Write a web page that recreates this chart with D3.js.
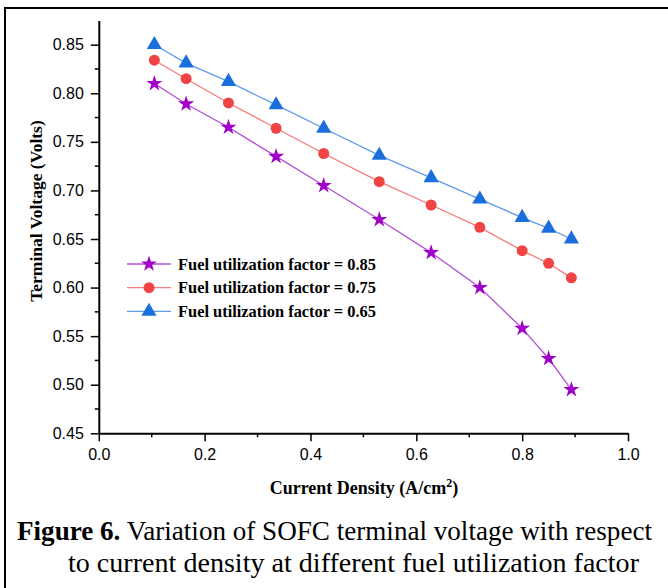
<!DOCTYPE html>
<html>
<head>
<meta charset="utf-8">
<script src="https://cdn.jsdelivr.net/npm/d3@7"></script>
<style>
  html, body { margin: 0; padding: 0; background: #fff; }
  svg { display: block; }
</style>
</head>
<body>
<svg id="chart" width="668" height="588"></svg>
<script>
// current density values (A/cm2), shared by all three curves
const currentDensity = [0.105, 0.165, 0.245, 0.335, 0.425, 0.53, 0.628, 0.72, 0.80, 0.85, 0.893];

const voltage085 = [0.810, 0.789, 0.765, 0.735, 0.705, 0.670, 0.636, 0.600, 0.558, 0.527, 0.495];
const voltage075 = [0.834, 0.815, 0.790, 0.764, 0.738, 0.709, 0.685, 0.662, 0.638, 0.625, 0.610];
const voltage065 = [0.850, 0.831, 0.812, 0.788, 0.764, 0.736, 0.713, 0.691, 0.672, 0.661, 0.650];

const seriesNames = ['Fuel utilization factor = 0.85', 'Fuel utilization factor = 0.75', 'Fuel utilization factor = 0.65'];

const xTicks = [0.0, 0.2, 0.4, 0.6, 0.8, 1.0];
const yTicks = [0.45, 0.50, 0.55, 0.60, 0.65, 0.70, 0.75, 0.80, 0.85];

const series = [
  { name: seriesNames[0], values: voltage085, symbol: d3.symbolStar, size: 80, fill: '#a000c8', line: '#b24fd6' },
  { name: seriesNames[1], values: voltage075, symbol: d3.symbolCircle, size: 95, fill: '#f04444', line: '#f77b7b' },
  { name: seriesNames[2], values: voltage065, symbol: d3.symbolTriangle, size: 100, fill: '#1b6fdc', line: '#5f9be9' }
];

const serif = '"Liberation Serif", "Times New Roman", serif';

const svg = d3.select('#chart');

// frame round the figure (only left/top edges fall inside the picture)
svg.append('rect')
  .attr('x', 5).attr('y', 8)
  .attr('width', 700).attr('height', 620)
  .attr('fill', 'none')
  .attr('stroke', '#000')
  .attr('stroke-width', 2);

const x = d3.scaleLinear().domain([0, 1]).range([98.8, 628]);
const y = d3.scaleLinear().domain([0.45, 0.875]).range([433.3, 20.4]);

// minor ticks first
const xMinor = d3.range(0.1, 1.0, 0.2);
const yMinor = d3.range(0.475, 0.875, 0.05);

svg.append('g')
  .attr('transform', `translate(0,${y(0.45)})`)
  .selectAll('line').data(xMinor).join('line')
  .attr('x1', d => x(d)).attr('x2', d => x(d))
  .attr('y1', 0).attr('y2', 4)
  .attr('stroke', '#000').attr('stroke-width', 1.5);

svg.append('g')
  .attr('transform', `translate(${x(0)},0)`)
  .selectAll('line').data(yMinor).join('line')
  .attr('y1', d => y(d)).attr('y2', d => y(d))
  .attr('x1', 0).attr('x2', -4)
  .attr('stroke', '#000').attr('stroke-width', 1.5);

const xAxis = svg.append('g')
  .attr('transform', `translate(0,${y(0.45)})`)
  .call(d3.axisBottom(x).tickValues(xTicks).tickFormat(d3.format('.1f'))
    .tickSize(8).tickSizeOuter(0).tickPadding(7));

const yAxis = svg.append('g')
  .attr('transform', `translate(${x(0)},0)`)
  .call(d3.axisLeft(y).tickValues(yTicks).tickFormat(d3.format('.2f'))
    .tickSize(8).tickSizeOuter(0).tickPadding(7));

[xAxis, yAxis].forEach(g => {
  g.select('.domain').attr('stroke', '#000').attr('stroke-width', 2);
  g.selectAll('.tick line').attr('stroke', '#000').attr('stroke-width', 1.5);
  g.selectAll('.tick text')
    .attr('fill', '#000')
    .style('font-family', '"Liberation Sans", Arial, sans-serif')
    .style('font-size', '16px');
});

// axis titles
const xTitle = svg.append('text')
  .attr('x', 364).attr('y', 494)
  .attr('text-anchor', 'middle')
  .style('font-family', serif)
  .style('font-weight', 'bold')
  .style('font-size', '18px');
xTitle.append('tspan').text('Current Density (A/cm');
xTitle.append('tspan').attr('dy', -7).style('font-size', '12px').text('2');
xTitle.append('tspan').attr('dy', 7).text(')');

svg.append('text')
  .attr('transform', 'translate(42,211) rotate(-90)')
  .attr('text-anchor', 'middle')
  .style('font-family', serif)
  .style('font-weight', 'bold')
  .style('font-size', '17.5px')
  .text('Terminal Voltage (Volts)');

// curves
const line = d3.line()
  .x((d, i) => x(currentDensity[i]))
  .y(d => y(d));

const plot = svg.append('g');

series.forEach(s => {
  plot.append('path')
    .datum(s.values)
    .attr('d', line)
    .attr('fill', 'none')
    .attr('stroke', s.line)
    .attr('stroke-width', 1.3);

  plot.append('g')
    .selectAll('path').data(s.values).join('path')
    .attr('transform', (d, i) => `translate(${x(currentDensity[i])},${y(d)})`)
    .attr('d', d3.symbol().type(s.symbol).size(s.size))
    .attr('fill', s.fill);
});

// legend
const legend = svg.append('g').attr('transform', 'translate(127,264)');
series.forEach((s, i) => {
  const row = legend.append('g').attr('transform', `translate(0,${i * 23.7})`);
  row.append('line')
    .attr('x1', 0).attr('x2', 44)
    .attr('stroke', s.line).attr('stroke-width', 1.3);
  row.append('path')
    .attr('transform', 'translate(22,0)')
    .attr('d', d3.symbol().type(s.symbol).size(s.size))
    .attr('fill', s.fill);
  row.append('text')
    .attr('x', 51).attr('y', 5.5)
    .style('font-family', serif)
    .style('font-weight', 'bold')
    .style('font-size', '16.4px')
    .text(s.name);
});

// caption
const caption1 = svg.append('text')
  .attr('x', 17).attr('y', 540)
  .attr('textLength', 635).attr('lengthAdjust', 'spacingAndGlyphs')
  .style('font-family', serif)
  .style('font-size', '27px')
  .attr('fill', '#000');
caption1.append('tspan').style('font-weight', 'bold').text('Figure 6.');
caption1.append('tspan').text(' Variation of SOFC terminal voltage with respect');

svg.append('text')
  .attr('x', 68).attr('y', 572)
  .attr('textLength', 571).attr('lengthAdjust', 'spacingAndGlyphs')
  .style('font-family', serif)
  .style('font-size', '27px')
  .attr('fill', '#000')
  .text('to current density at different fuel utilization factor');
</script>
</body>
</html>
